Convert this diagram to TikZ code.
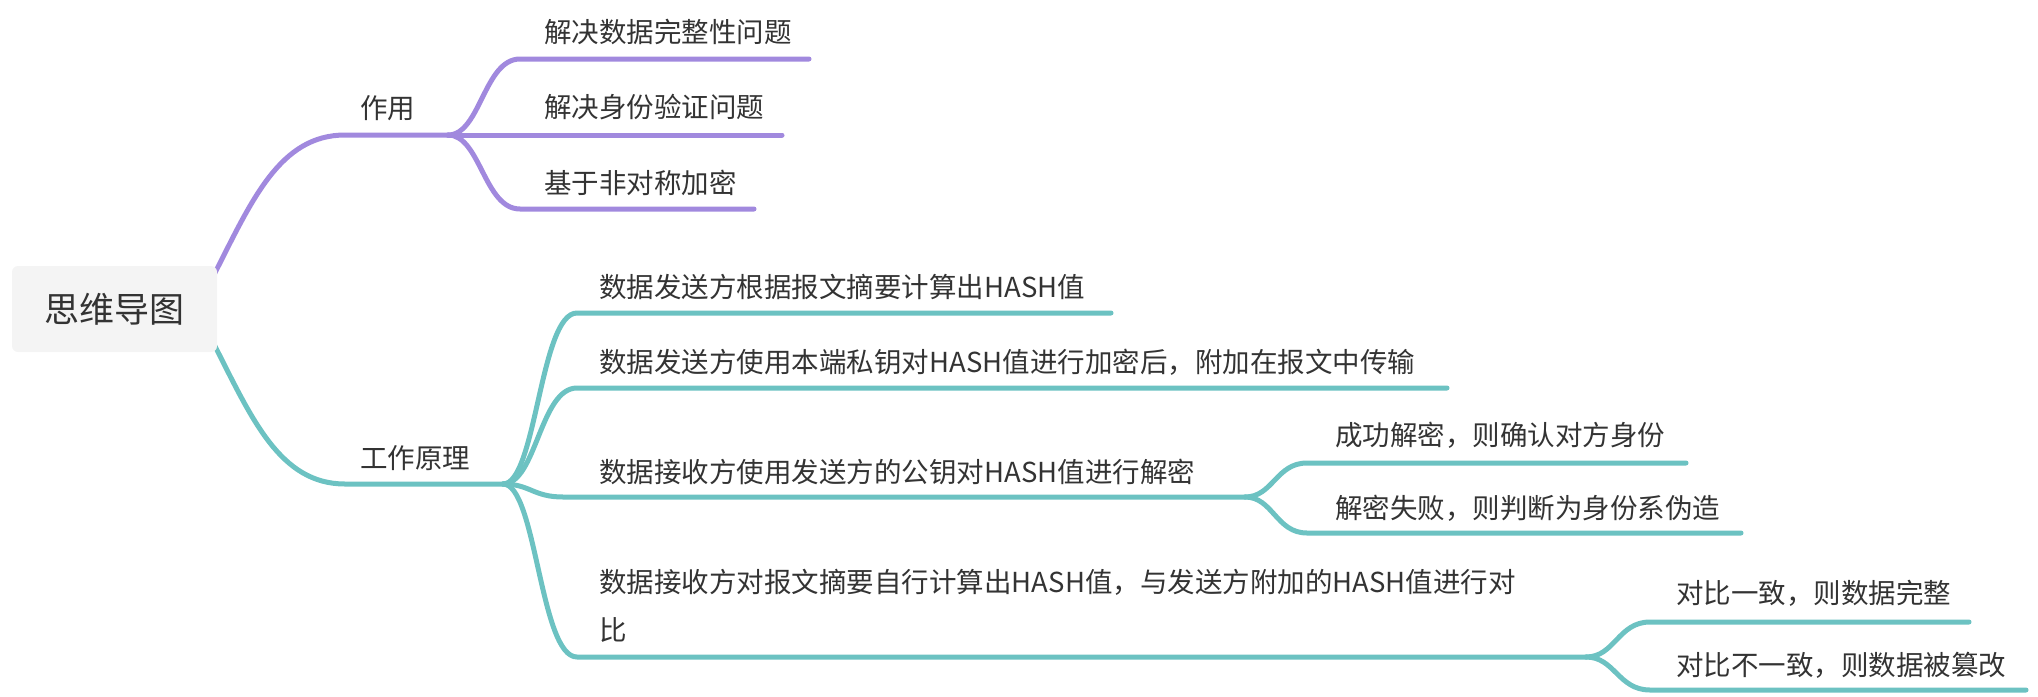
\documentclass[tikz,border=0pt]{standalone}
\usepackage{fontspec}
\setmainfont{Noto Sans CJK SC}
\usetikzlibrary{calc,backgrounds}
\definecolor{purp}{RGB}{161,137,222}
\definecolor{tealc}{RGB}{108,194,194}
\definecolor{txt}{RGB}{51,51,51}
\definecolor{rootfill}{RGB}{244,244,244}
\tikzset{
  pline/.style={draw=purp, line width=2.5pt, line cap=round, line join=round},
  tline/.style={draw=tealc, line width=2.5pt, line cap=round, line join=round},
  lbl/.style={anchor=base west, inner sep=0pt, text=txt, font=\fontsize{13.75pt}{24pt}\selectfont},
  rootbox/.style={fill=rootfill, rounded corners=3pt, minimum width=102.5pt, minimum height=43pt,
    inner sep=0pt, text=txt, font=\fontsize{17.5pt}{21pt}\selectfont}
}
\newcommand\mmcurve[4]{%
  \draw[#1] let \p1=(#2), \p2=(#3) in (\p1) .. controls ({\x1+0.45*(\x2-\x1)},\y1) and ({\x1+0.5*(\x2-\x1)},\y2) .. (\p2) -- (#4);}
\begin{document}
\begin{tikzpicture}[x=0.5pt,y=-0.5pt]
\useasboundingbox (0,0) rectangle (2038,696);
% root
\node[rootbox] (root) at (114.5,309) {思维导图};
\coordinate (rootP) at ($(root.east)+(-3,-35)$);
\coordinate (rootT) at ($(root.east)+(-3,36)$);
% labels
\node[lbl] (zy) at (360,118) {作用};
\node[lbl] (p1) at (544,42) {解决数据完整性问题};
\node[lbl] (p2) at (544,117) {解决身份验证问题};
\node[lbl] (p3) at (544,193) {基于非对称加密};
\node[lbl] (gz) at (360,468) {工作原理};
\node[lbl] (t1) at (599,297) {数据发送方根据报文摘要计算出HASH值};
\node[lbl] (t2) at (599,372) {数据发送方使用本端私钥对HASH值进行加密后，附加在报文中传输};
\node[lbl] (t3) at (599,482) {数据接收方使用发送方的公钥对HASH值进行解密};
\node[lbl] (t4) at (599,592) {\begin{tabular}[t]{@{}l@{}}数据接收方对报文摘要自行计算出HASH值，与发送方附加的HASH值进行对\\比\end{tabular}};
\node[lbl] (g1) at (1335,445) {成功解密，则确认对方身份};
\node[lbl] (g2) at (1335,518) {解密失败，则判断为身份系伪造};
\node[lbl] (h1) at (1676,603) {对比一致，则数据完整};
\node[lbl] (h2) at (1676,675) {对比不一致，则数据被篡改};
% coordinates for connector ends
\coordinate (zyS) at (345,135); \coordinate (zyB) at (448,135);
\coordinate (p1s) at (520,59);  \coordinate (p1e) at (809,59);
\coordinate (p2e) at (782,135);
\coordinate (p3s) at (520,209); \coordinate (p3e) at (754,209);
\coordinate (gzS) at (345,484); \coordinate (gzB) at (503,484);
\coordinate (t1s) at (577,313); \coordinate (t1e) at (1111,313);
\coordinate (t2s) at (577,388); \coordinate (t2e) at (1447,388);
\coordinate (t3s) at (563,497); \coordinate (t3B) at (1245,497);
\coordinate (t4s) at (577,657); \coordinate (t4B) at (1586,657);
\coordinate (g1s) at (1307,463); \coordinate (g1e) at (1686,463);
\coordinate (g2s) at (1307,533); \coordinate (g2e) at (1741,533);
\coordinate (h1s) at (1650,622); \coordinate (h1e) at (1969,622);
\coordinate (h2s) at (1650,690); \coordinate (h2e) at (2026,690);
\begin{scope}[on background layer]
% purple branch
\draw[pline] (rootP) .. controls (252,200) and (280,135) .. (zyS) -- (zyB);
\mmcurve{pline}{zyB}{p1s}{p1e}
\draw[pline] (zyB) -- (p2e);
\mmcurve{pline}{zyB}{p3s}{p3e}
% teal branch
\draw[tline] (rootT) .. controls (252,419) and (280,484) .. (gzS) -- (gzB);
\mmcurve{tline}{gzB}{t1s}{t1e}
\mmcurve{tline}{gzB}{t2s}{t2e}
\mmcurve{tline}{gzB}{t3s}{t3B}
\mmcurve{tline}{gzB}{t4s}{t4B}
\mmcurve{tline}{t3B}{g1s}{g1e}
\mmcurve{tline}{t3B}{g2s}{g2e}
\mmcurve{tline}{t4B}{h1s}{h1e}
\mmcurve{tline}{t4B}{h2s}{h2e}
\end{scope}
\end{tikzpicture}
\end{document}
